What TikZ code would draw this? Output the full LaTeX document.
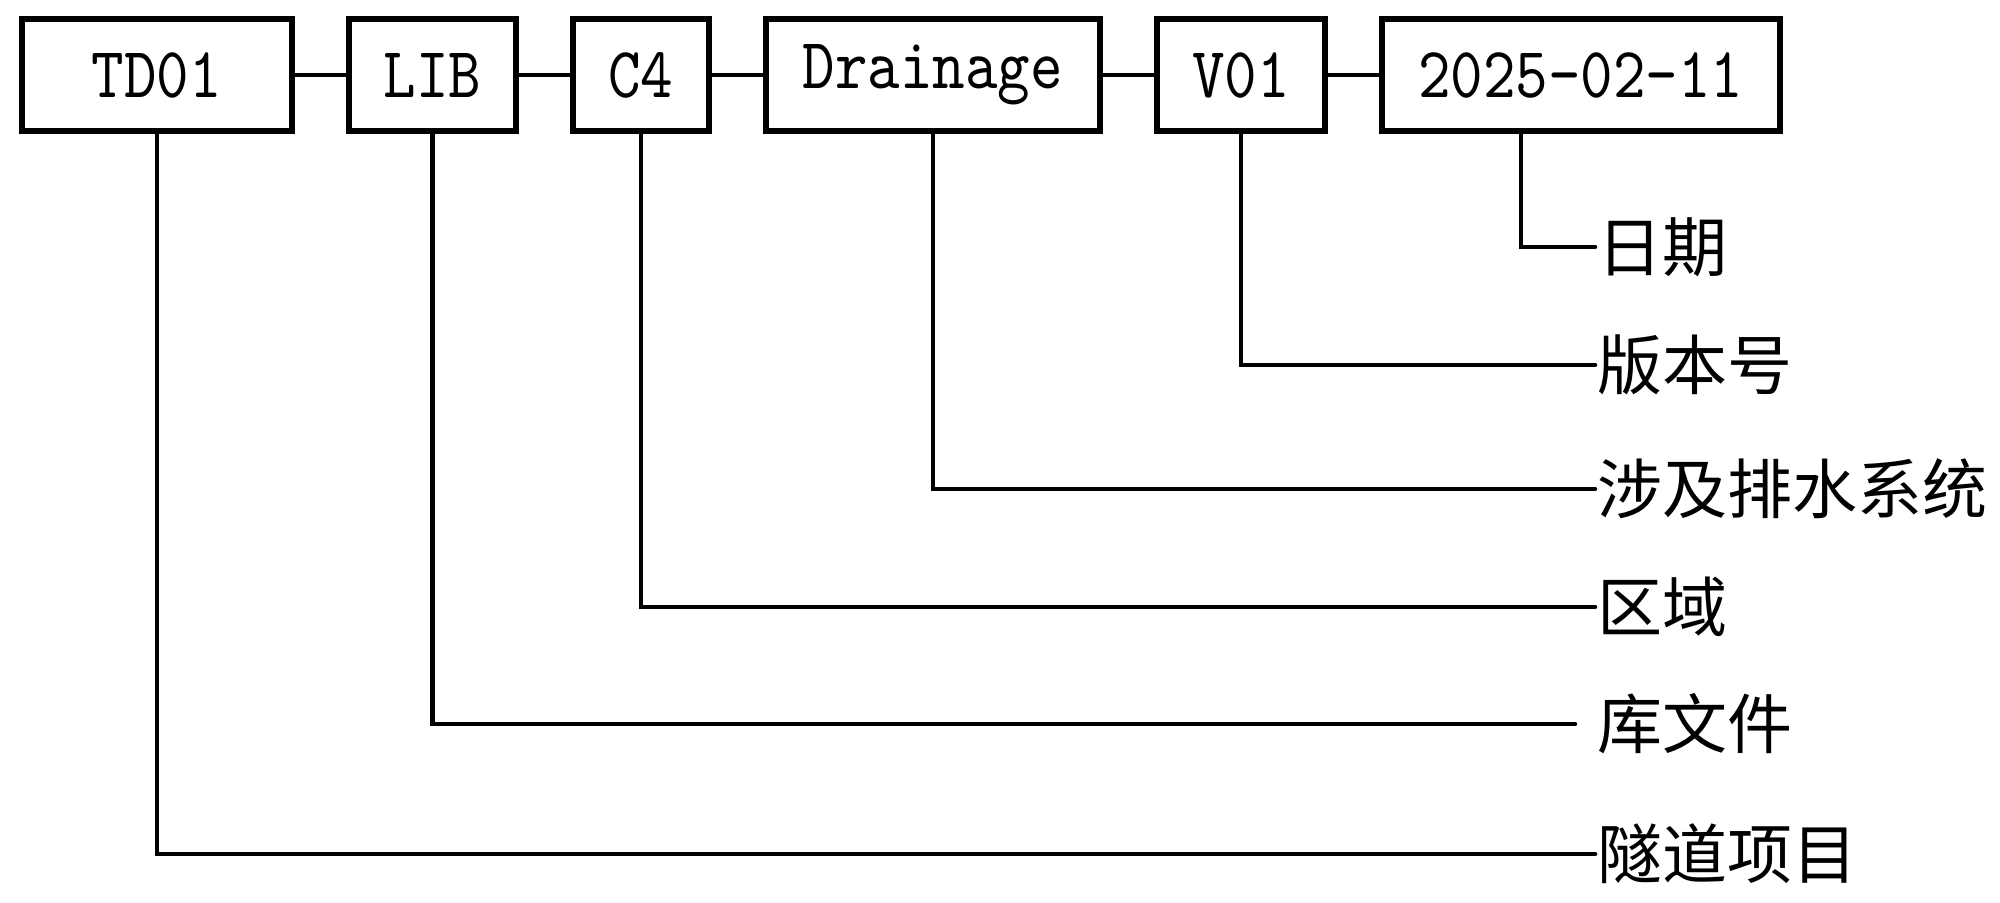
\documentclass[tikz,border=0pt]{standalone}
\usepackage{fontspec}
\setmonofont{lmmono10-regular.otf}[FakeStretch=0.86]
\newfontfamily\cjk{Noto Sans CJK SC}
\usetikzlibrary{positioning}

\begin{document}
\begin{tikzpicture}[x=0.1mm, y=-0.1mm, line width=1.3pt, line cap=round,
  part/.style={draw, line width=1.7pt, line cap=butt, minimum height=11.2mm, inner sep=0pt,
    font=\fontsize{20.5}{24}\selectfont\ttfamily},
  lbl/.style={anchor=west, inner sep=0pt, font=\fontsize{18.5}{22}\selectfont\cjk},
  node distance=5.1mm]
  \useasboundingbox (0,0) rectangle (2000,903);
  % Code segments
  \node[part, minimum width=27mm] (td) at (157,75) {TD01};
  \node[part, minimum width=16.7mm, right=of td] (lib) {LIB};
  \node[part, minimum width=13.6mm, right=of lib] (c4) {C4};
  \node[part, minimum width=33.4mm, right=of c4] (drain) {Drainage};
  \node[part, minimum width=16.8mm, right=of drain] (ver) {V01};
  \node[part, minimum width=39.8mm, right=of ver] (date) {2025-02-11};
  \draw (td) -- (lib) -- (c4) -- (drain) -- (ver) -- (date);
  % Meaning of each segment
  \node[lbl] (l-date) at (1595,247) {日期};
  \node[lbl] (l-ver) at (1595,365) {版本号};
  \node[lbl] (l-drain) at (1595,489) {涉及排水系统};
  \node[lbl] (l-c4) at (1595,607) {区域};
  \node[lbl] (l-lib) at (1595,724) {库文件};
  \node[lbl] (l-td) at (1595,854) {隧道项目};
  \foreach \n/\dx/\ex in {td/0/0, lib/0/2, c4/0/0, drain/0/0, ver/0/0, date/-6/0}
    \draw ([xshift=\dx mm]\n.south) |- ([xshift=-\ex mm]l-\n.west);
\end{tikzpicture}
\end{document}
